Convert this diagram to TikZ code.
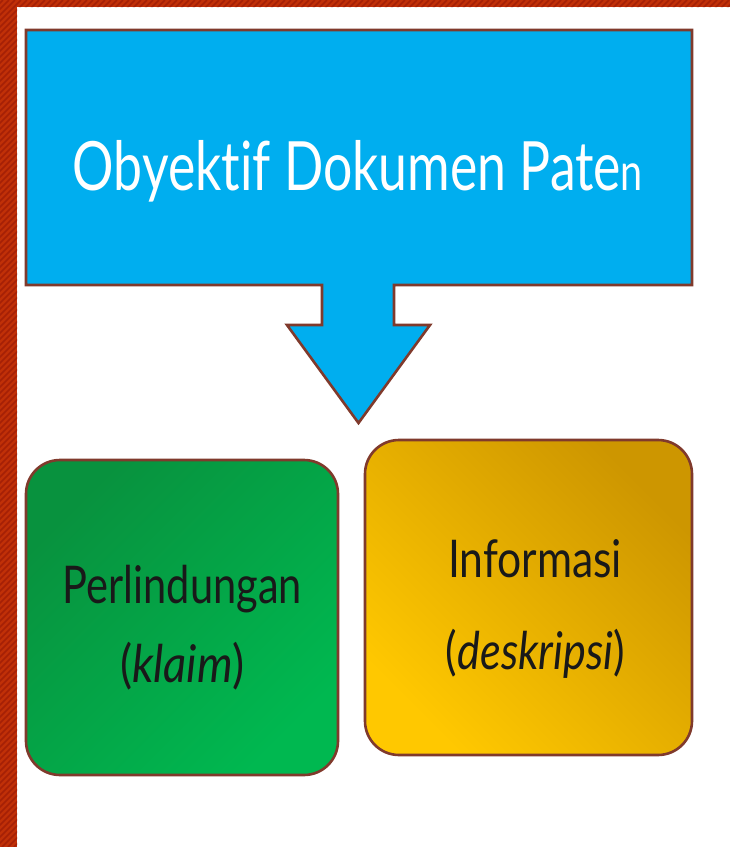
\documentclass[tikz,border=0pt]{standalone}
\usepackage{fontspec}
\setmainfont{Lato}[Ligatures=CommonOff]
\definecolor{stripe}{RGB}{192,48,8}
\definecolor{stripedark}{RGB}{165,32,6}
\definecolor{edge}{RGB}{128,58,44}
\definecolor{skyblue}{RGB}{0,174,239}
\definecolor{greendark}{RGB}{8,146,62}
\definecolor{greenlight}{RGB}{0,184,80}
\definecolor{golddark}{RGB}{205,150,0}
\definecolor{goldlight}{RGB}{255,200,0}
\newcommand{\fitw}[2]{\resizebox{#1pt}{\height}{#2}}
\tikzset{
  outline/.style={draw=edge, line width=2.6pt, line join=miter},
  card/.style={outline, rounded corners=34pt},
  cardtext/.style={text=black!90, inner sep=0pt, font=\fontsize{52}{56}\selectfont, anchor=base},
  hatch/.style={draw=stripedark, line width=1.6pt},
}
\begin{document}
\begin{tikzpicture}[x=1pt,y=-1pt]
\useasboundingbox (0,0) rectangle (730,847);
\fill[white] (0,0) rectangle (730,847);
% stripes
\fill[stripe] (0,0) rectangle (730,7);
\fill[stripe] (0,0) rectangle (17,847);
\begin{scope}
  \clip (0,0) -- (730,0) -- (730,7) -- (17,7) -- (17,847) -- (0,847) -- cycle;
  \foreach \k in {-850,-844,...,736} {\draw[hatch] (\k,847) -- (\k+847,0);}
\end{scope}
% blue arrow box
\draw[outline, fill=skyblue] (26,30) -- (692,30) -- (692,285) -- (394,285) -- (394,325) -- (430,325)
  -- (358.5,423) -- (287,325) -- (322,325) -- (322,285) -- (26,285) -- cycle;
\node[anchor=base, text=white, inner sep=0pt] (title) at (358,190)
  {\fitw{570}{\fontsize{68}{70}\selectfont Obyektif Dokumen Pate{\fontsize{52}{55}\selectfont n}}};
% green card
\draw[card, top color=greendark, bottom color=greenlight, shading angle=45] (26,460) rectangle (338,775);
\node[cardtext] (perl) at (182.5,603) {\fitw{239}{Perlindungan}};
\node[cardtext] (klaim) at (182.5,682) {\fitw{125}{(\textit{klaim})}};
% gold card
\draw[card, top color=golddark, bottom color=goldlight, shading angle=-45] (365,440) rectangle (692,755);
\node[cardtext] (info) at (535,577) {\fitw{174}{Informasi}};
\node[cardtext] (desk) at (535.5,669) {\fitw{179}{(\textit{deskripsi})}};
\end{tikzpicture}
\end{document}
